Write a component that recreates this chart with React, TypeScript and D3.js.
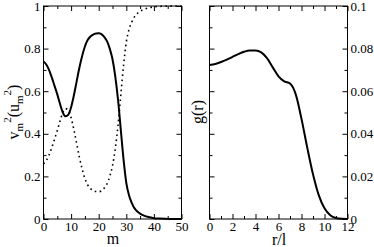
import React, { useEffect, useRef } from 'react';
import * as d3 from 'd3';

// left panel: v_m^2 (solid) and u_m^2 (dotted) vs m
const mVals = [0, 1, 2, 3, 4, 5, 6, 7, 8, 9, 10, 11, 12, 13, 14, 15, 16, 17, 18, 19, 20, 21, 22, 23, 24, 25, 26, 27, 28, 29, 30, 31, 32, 33, 34, 35, 36, 38, 40, 42, 44, 46, 48, 50];
const vSq = [0.74, 0.725, 0.70, 0.665, 0.625, 0.585, 0.54, 0.50, 0.482, 0.49, 0.525, 0.58, 0.645, 0.71, 0.765, 0.81, 0.84, 0.857, 0.866, 0.871, 0.872, 0.868, 0.855, 0.835, 0.80, 0.75, 0.67, 0.56, 0.42, 0.28, 0.17, 0.11, 0.075, 0.05, 0.035, 0.025, 0.018, 0.009, 0.004, 0.002, 0.001, 0.0005, 0.0002, 0];
const uSq = [0.26, 0.275, 0.30, 0.335, 0.375, 0.415, 0.46, 0.50, 0.518, 0.51, 0.475, 0.42, 0.355, 0.29, 0.235, 0.19, 0.16, 0.143, 0.134, 0.129, 0.128, 0.132, 0.145, 0.165, 0.20, 0.25, 0.33, 0.44, 0.58, 0.72, 0.83, 0.89, 0.925, 0.95, 0.965, 0.975, 0.982, 0.991, 0.996, 0.998, 0.999, 0.9995, 0.9998, 1];
const mTicks = [0, 10, 20, 30, 40, 50];
const vTicks = [0, 0.2, 0.4, 0.6, 0.8, 1];

// right panel: g(r) vs r/l
const rVals = [0, 0.5, 1, 1.5, 2, 2.5, 3, 3.5, 4, 4.5, 5, 5.5, 6, 6.5, 7, 7.5, 8, 8.5, 9, 9.5, 10, 10.5, 11, 11.5, 12];
const gVals = [0.0723, 0.0728, 0.0737, 0.0748, 0.0761, 0.0774, 0.0785, 0.0791, 0.0791, 0.0782, 0.0755, 0.0712, 0.067, 0.0646, 0.0636, 0.0585, 0.047, 0.0335, 0.021, 0.0112, 0.005, 0.0018, 0.0005, 0.0001, 0];
const rTicks = [0, 2, 4, 6, 8, 10, 12];
const gTicks = [0, 0.02, 0.04, 0.06, 0.08, 0.1];

const FONT = "'Liberation Serif', 'DejaVu Serif', serif";
const fmt = (d: number) => `${+d.toFixed(3)}`;

const App = () => {
  const ref = useRef<SVGSVGElement>(null);

  useEffect(() => {
    const svg = d3.select(ref.current).style('font-family', FONT);
    svg.selectAll('*').remove();

    const top = 6, bottom = 219;

    const panel = (x0: number, x1: number, xDom: [number, number], yDom: [number, number],
      xt: number[], yt: number[], xMinor: number[], yMinor: number[], labelRight: boolean) => {
      const x = d3.scaleLinear().domain(xDom).range([x0, x1]);
      const y = d3.scaleLinear().domain(yDom).range([bottom, top]);
      const g = svg.append('g');

      // [axis factory, transform, show labels]
      const axes: [() => any, string, boolean][] = [
        [() => d3.axisBottom(x), `translate(0,${bottom})`, true],
        [() => d3.axisTop(x), `translate(0,${top})`, false],
        [() => (labelRight ? d3.axisRight(y) : d3.axisLeft(y)), `translate(${labelRight ? x1 : x0},0)`, true],
        [() => (labelRight ? d3.axisLeft(y) : d3.axisRight(y)), `translate(${labelRight ? x0 : x1},0)`, false],
      ];
      axes.forEach(([mk, tr, labels], i) => {
        const isX = i < 2;
        const ga = g.append('g').attr('transform', tr)
          .call(mk().tickValues(isX ? xt : yt).tickSize(-5).tickPadding(3)
            .tickFormat(labels ? fmt : () => ''));
        ga.select('.domain').remove();
        ga.attr('font-family', null).attr('font-size', null);
        ga.selectAll('text').style('font-family', FONT).style('font-size', '13px').attr('fill', '#000');
        const gm = g.append('g').attr('transform', tr)
          .call(mk().tickValues(isX ? xMinor : yMinor).tickSize(-3).tickFormat(() => ''));
        gm.select('.domain').remove();
      });

      g.append('rect')
        .attr('x', x0).attr('y', top)
        .attr('width', x1 - x0).attr('height', bottom - top)
        .attr('fill', 'none').attr('stroke', '#000').attr('stroke-width', 1);
      return { x, y, g };
    };

    // left panel
    const L = panel(43.5, 181.5, [0, 50], [0, 1], mTicks, vTicks,
      d3.range(5, 50, 10), d3.range(0.1, 1, 0.2), false);
    const lineL = (vals: number[]) => d3.line<number>()
      .x((_, i) => L.x(mVals[i]))
      .y(d => L.y(d))
      .curve(d3.curveMonotoneX)(vals);
    L.g.append('path').attr('d', lineL(uSq)).attr('fill', 'none')
      .attr('stroke', '#000').attr('stroke-width', 1.6).attr('stroke-dasharray', '1.6,3.4');
    L.g.append('path').attr('d', lineL(vSq)).attr('fill', 'none')
      .attr('stroke', '#000').attr('stroke-width', 2);

    // right panel
    const R = panel(209.5, 347.5, [0, 12], [0, 0.1], rTicks, gTicks,
      d3.range(1, 12, 2), d3.range(0.01, 0.1, 0.02), true);
    R.g.append('path')
      .attr('d', d3.line<number>().x((_, i) => R.x(rVals[i])).y(d => R.y(d)).curve(d3.curveMonotoneX)(gVals))
      .attr('fill', 'none').attr('stroke', '#000').attr('stroke-width', 2);

    // axis titles
    svg.append('text').attr('x', 113).attr('y', 244).attr('text-anchor', 'middle')
      .style('font-family', FONT).style('font-size', '16px').text('m');
    svg.append('text').attr('x', 279).attr('y', 245).attr('text-anchor', 'middle')
      .style('font-family', FONT).style('font-size', '16px').text('r/l');

    const yl = svg.append('text').attr('transform', 'translate(19,112) rotate(-90)')
      .attr('text-anchor', 'middle').style('font-family', FONT).style('font-size', '16px');
    yl.append('tspan').text('v');
    yl.append('tspan').attr('dy', 4).style('font-size', '11px').text('m');
    yl.append('tspan').attr('dy', -12).style('font-size', '11px').text('2');
    yl.append('tspan').attr('dy', 8).text('(u');
    yl.append('tspan').attr('dy', 4).style('font-size', '11px').text('m');
    yl.append('tspan').attr('dy', -12).style('font-size', '11px').text('2');
    yl.append('tspan').attr('dy', 8).text(')');

    svg.append('text').attr('transform', 'translate(203,112) rotate(-90)')
      .attr('text-anchor', 'middle').style('font-family', FONT).style('font-size', '16px').text('g(r)');
  }, []);

  return (
    <svg ref={ref} width={374} height={247}
      style={{ position: 'absolute', left: 0, top: 0, background: '#fff' }} />
  );
};

export default App;
